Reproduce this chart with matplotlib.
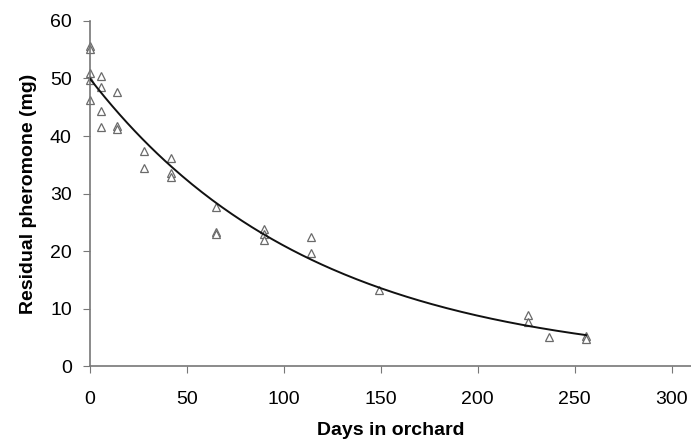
import numpy as np
import matplotlib
matplotlib.use("Agg")
import matplotlib.pyplot as plt

# -------------------------------
# Data
# -------------------------------
days = [0, 0, 0, 0, 0,
        6, 6, 6, 6,
        14, 14, 14,
        28, 28,
        42, 42, 42,
        65, 65, 65,
        90, 90, 90,
        114, 114,
        149,
        226, 226,
        237,
        256, 256]
residual = [55.7, 55.2, 50.9, 49.8, 46.3,
            50.4, 48.6, 44.4, 41.5,
            47.7, 41.7, 41.3,
            37.4, 34.4,
            36.1, 33.5, 32.9,
            27.6, 23.4, 23.0,
            23.9, 22.9, 21.9,
            22.4, 19.6,
            13.2,
            8.9, 7.7,
            5.1,
            5.2, 4.8]

# fitted exponential decay: y = A * exp(-k * t)
FIT_A = 50.0
FIT_K = 0.0087
FIT_END = 256

x_ticks = [0, 50, 100, 150, 200, 250, 300]
y_ticks = [0, 10, 20, 30, 40, 50, 60]

plt.rcParams["font.family"] = ["Liberation Sans", "DejaVu Sans"]

fig = plt.figure(figsize=(6.91, 4.46), dpi=100)
ax = fig.add_axes([0.130, 0.179, 0.870, 0.774])

ax.plot(days, residual, linestyle="none", marker="^", markersize=6.3,
        markerfacecolor="white", markeredgecolor="#6a6a6a", markeredgewidth=0.9,
        zorder=2, clip_on=False)

t = np.linspace(0, FIT_END, 200)
ax.plot(t, FIT_A * np.exp(-FIT_K * t), color="#111111", linewidth=1.4, zorder=3)

ax.set_xlim(0, 310)
ax.set_ylim(0, 60)
ax.set_xticks(x_ticks)
ax.set_yticks(y_ticks)

for side in ["top", "right"]:
    ax.spines[side].set_visible(False)
for side in ["left", "bottom"]:
    ax.spines[side].set_color("#777777")
    ax.spines[side].set_linewidth(1.2)

ax.tick_params(axis="x", direction="out", length=5, width=0.8, color="#777777",
               pad=13, labelsize=14)
ax.tick_params(axis="y", direction="out", length=5, width=0.8, color="#777777",
               pad=8, labelsize=14)

ax.set_xlabel("Days in orchard", fontsize=14, fontweight="bold", labelpad=10)
ax.set_ylabel("Residual pheromone (mg)", fontsize=14, fontweight="bold", labelpad=9)

fig.savefig("out.png", dpi=100)
